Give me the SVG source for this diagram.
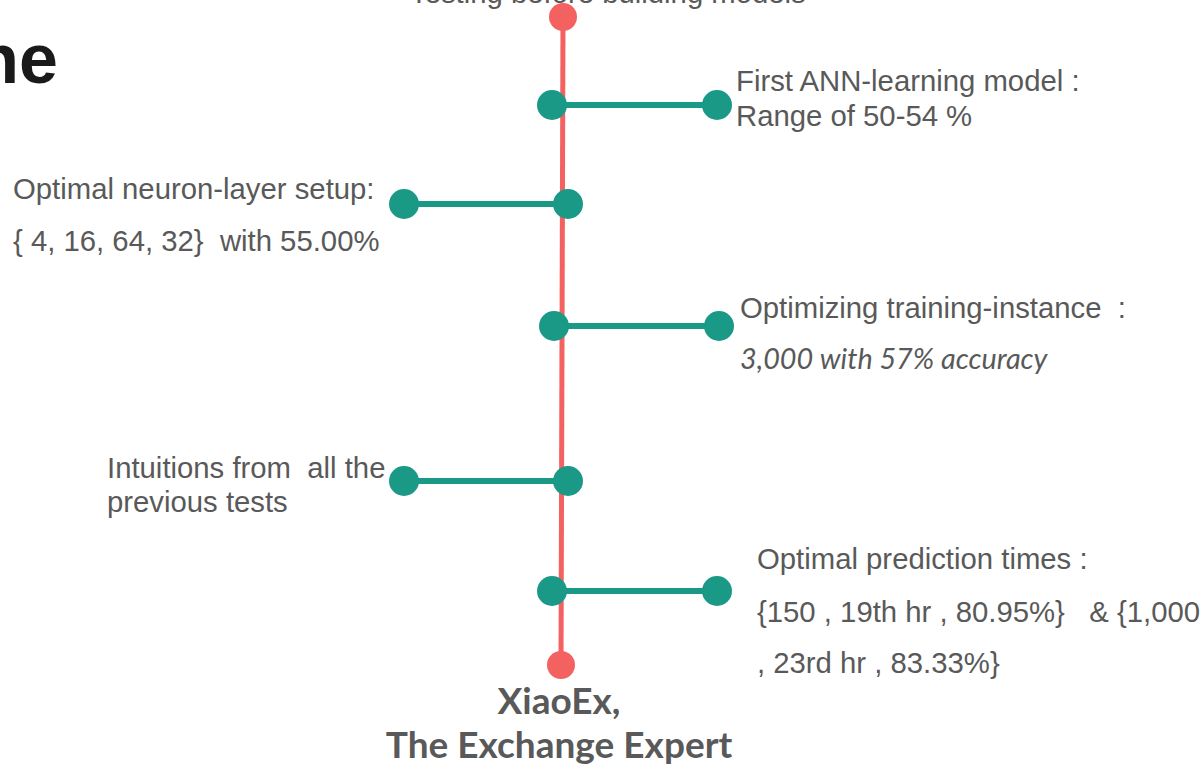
<svg xmlns="http://www.w3.org/2000/svg" width="1202" height="766" viewBox="0 0 1202 766">
<defs>
<style>
.t{font-family:"Liberation Sans",Arial,sans-serif;font-size:29.3px;fill:#595959}
.it{font-family:Lato,"Liberation Sans",sans-serif;font-style:italic;font-size:28.8px;fill:#595959}
.ttl{font-family:Lato,"Liberation Sans",sans-serif;font-weight:bold;font-size:37px;fill:#595959;text-anchor:middle}
.red{fill:#F46161}
.dot{fill:#1B9987}
.br{stroke:#1B9987;stroke-width:6;fill:none}
</style>
</defs>
<rect width="1202" height="766" fill="#ffffff"/>
<text x="58" y="83" text-anchor="end" style="font-family:'Liberation Sans',Arial,sans-serif;font-weight:bold;font-size:70px;fill:#1a1a1a">ne</text>
<g id="connectors">
<line x1="563" y1="17" x2="561" y2="665" stroke="#F46161" stroke-width="5"/>
<line class="br" x1="552" y1="105" x2="717" y2="105"/>
<line class="br" x1="404" y1="204" x2="568" y2="204"/>
<line class="br" x1="554" y1="326" x2="719" y2="326"/>
<line class="br" x1="404" y1="481" x2="568" y2="481"/>
<line class="br" x1="552" y1="591" x2="717" y2="591"/>
</g>
<g id="start">
<circle class="red" cx="563" cy="17" r="14"/>
<text class="t" x="410" y="3">Testing before building models</text>
</g>
<g id="n1">
<circle class="dot" cx="552" cy="105" r="15"/>
<circle class="dot" cx="717" cy="105" r="15"/>
<text class="t" x="736" y="91">First ANN-learning model :</text>
<text class="t" x="736" y="126">Range of 50-54 %</text>
</g>
<g id="n2">
<circle class="dot" cx="404" cy="204" r="15"/>
<circle class="dot" cx="568" cy="204" r="15"/>
<text class="t" x="13" y="199">Optimal neuron-layer setup:</text>
<text class="t" x="13" y="251" xml:space="preserve">{ 4, 16, 64, 32}  with 55.00%</text>
</g>
<g id="n3">
<circle class="dot" cx="554" cy="326" r="15"/>
<circle class="dot" cx="719" cy="326" r="15"/>
<text class="t" x="740" y="318" xml:space="preserve">Optimizing training-instance  :</text>
<text class="it" x="740" y="369">3,000 with 57% accuracy</text>
</g>
<g id="n4">
<circle class="dot" cx="404" cy="481" r="15"/>
<circle class="dot" cx="568" cy="481" r="15"/>
<text class="t" x="107" y="478" xml:space="preserve">Intuitions from  all the</text>
<text class="t" x="107" y="512">previous tests</text>
</g>
<g id="n5">
<circle class="dot" cx="552" cy="591" r="15"/>
<circle class="dot" cx="717" cy="591" r="15"/>
<text class="t" x="757" y="569">Optimal prediction times :</text>
<text class="t" x="757" y="622" xml:space="preserve">{150 , 19th hr , 80.95%}   &amp; {1,000</text>
<text class="t" x="757" y="673">, 23rd hr , 83.33%}</text>
</g>
<g id="end">
<circle class="red" cx="561" cy="665" r="14"/>
<text class="ttl" x="559" y="714">XiaoEx,</text>
<text class="ttl" x="559" y="758">The Exchange Expert</text>
</g>
</svg>
